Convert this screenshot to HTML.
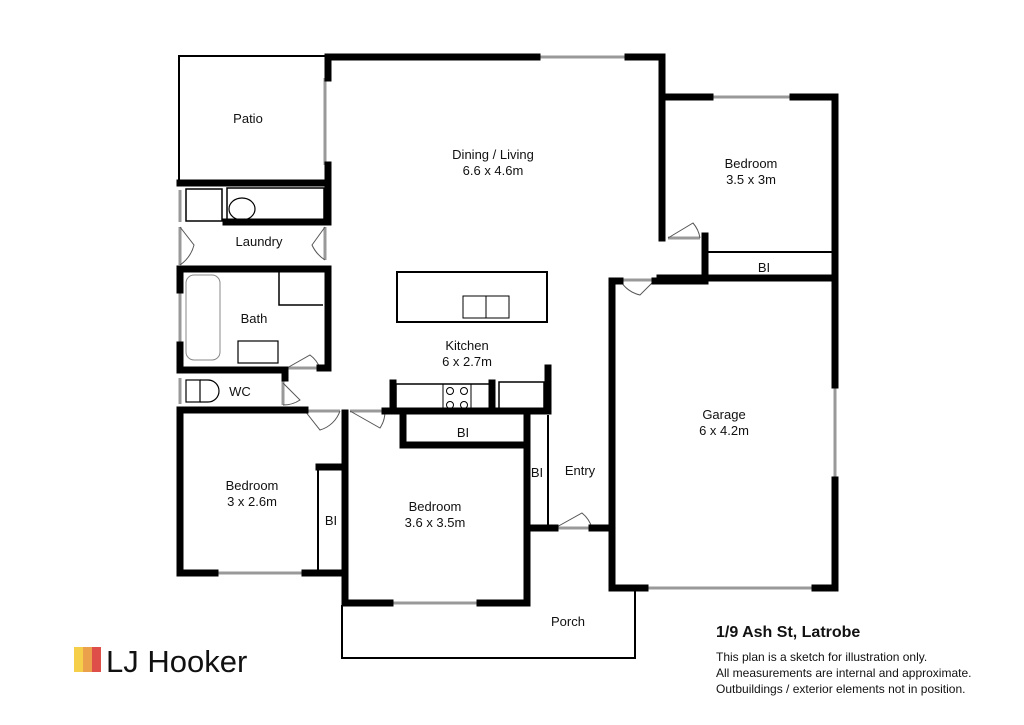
<!DOCTYPE html>
<html><head><meta charset="utf-8"><style>
html,body{margin:0;padding:0;background:#fff;width:1024px;height:725px;overflow:hidden}
svg{display:block}
text{font-family:"Liberation Sans",Arial,sans-serif;fill:#111}
</style></head><body>
<svg width="1024" height="725" viewBox="0 0 1024 725">
<g fill="none" stroke="#000" stroke-width="2">
<!-- patio -->
<path d="M179 180 V56 H326"/>
<!-- island -->
<rect x="397" y="272" width="150" height="50"/>
<rect x="463" y="296" width="46" height="22" stroke-width="1"/>
<line x1="486" y1="296" x2="486" y2="318" stroke-width="1"/>
<!-- porch -->
<path d="M342 605 V658 H635 V590"/>
<!-- thin lines -->
<line x1="705" y1="252" x2="833" y2="252"/>
<line x1="318" y1="467" x2="318" y2="573"/>
<line x1="548" y1="415" x2="548" y2="528"/>
<rect x="186" y="189" width="36" height="32" stroke-width="1.5"/>
<rect x="227" y="188" width="97" height="34" stroke-width="1.5"/>
<ellipse cx="242" cy="209" rx="13" ry="11" stroke-width="1.2"/>
<rect x="186" y="275" width="34" height="85" rx="8" stroke-width="1" stroke="#888"/>
<path d="M279 272 V305 H323" stroke-width="1.5"/>
<rect x="238" y="341" width="40" height="22" stroke-width="1.2"/>
<rect x="186" y="380" width="14" height="22" stroke-width="1.2"/>
<path d="M200 380 H208 A11 11 0 0 1 208 402 H200" stroke-width="1.2"/>
<rect x="396" y="384" width="94" height="28" stroke-width="1.5"/>
<rect x="443" y="384" width="28" height="28" stroke-width="1"/>
<circle cx="450" cy="391" r="3.5" stroke-width="1"/><circle cx="464" cy="391" r="3.5" stroke-width="1"/>
<circle cx="450" cy="405" r="3.5" stroke-width="1"/><circle cx="464" cy="405" r="3.5" stroke-width="1"/>
<rect x="499" y="382" width="45" height="30" stroke-width="1.5"/>
</g>
<!-- windows -->
<g stroke="#999" stroke-width="3" fill="none">
<line x1="537" y1="57" x2="628" y2="57"/>
<line x1="710" y1="97" x2="793" y2="97"/>
<line x1="835" y1="385" x2="835" y2="480"/>
<line x1="645" y1="588" x2="815" y2="588"/>
<line x1="215" y1="573" x2="305" y2="573"/>
<line x1="390" y1="603" x2="480" y2="603"/>
<line x1="325" y1="78" x2="325" y2="165"/>
<line x1="180" y1="290" x2="180" y2="345"/>
<line x1="180" y1="190" x2="180" y2="222"/>
<line x1="180" y1="378" x2="180" y2="404"/>
<line x1="668" y1="238" x2="700" y2="238"/>
<line x1="620" y1="280" x2="655" y2="280"/>
<line x1="555" y1="528" x2="592" y2="528"/>
<line x1="305" y1="411" x2="340" y2="411"/>
<line x1="350" y1="411" x2="385" y2="411"/>
<line x1="287" y1="368" x2="320" y2="368"/>
<line x1="283" y1="380" x2="283" y2="405"/>
<line x1="180" y1="227" x2="180" y2="265"/>
<line x1="325" y1="227" x2="325" y2="260"/>
</g>
<!-- door arcs -->
<g stroke="#555" stroke-width="1" fill="none">
<path d="M668 238 L693 223 A30 30 0 0 1 700 238"/>
<path d="M655 280 L640 295 A30 30 0 0 1 620 280"/>
<path d="M555 528 L582 513 A30 30 0 0 1 592 528"/>
<path d="M305 411 L320 430 A30 30 0 0 0 340 411"/>
<path d="M350 411 L380 428 A30 30 0 0 0 385 411"/>
<path d="M287 368 L310 355 A30 30 0 0 1 320 368"/>
<path d="M283 383 L300 400 A30 30 0 0 1 283 405"/>
<path d="M180 227 L194 245 A35 35 0 0 1 180 265"/>
<path d="M325 227 L312 245 A35 35 0 0 0 325 260"/>
</g>
<!-- thick walls -->
<g stroke="#000" stroke-width="7" fill="none" stroke-linecap="square">
<path d="M537 57 H328 V78"/>
<path d="M628 57 H662 V97 H710"/>
<path d="M793 97 H835 V385"/>
<path d="M662 97 V238"/>
<path d="M705 236 V277"/>
<path d="M660 278 H835"/>
<path d="M612 281 H620"/><path d="M655 281 H705"/>
<path d="M612 281 V588 H645"/>
<path d="M815 588 H835 V480"/>
<path d="M328 165 V222"/>
<path d="M180 183 H328"/>
<path d="M226 222 H328"/>
<path d="M180 269 H328 V368"/>
<path d="M180 269 V290"/><path d="M180 345 V370"/>
<path d="M180 370 H285 V378"/><path d="M320 368 H326"/>
<path d="M180 410 V573 H215"/>
<path d="M180 410 H305"/>
<path d="M305 573 H345"/>
<path d="M345 413 V603 H390"/>
<path d="M480 603 H527 V415"/>
<path d="M385 411 H548"/>
<path d="M393 383 V411"/><path d="M492 383 V411"/><path d="M548 368 V411"/>
<path d="M403 418 V445 H524"/>
<path d="M319 467 H345"/>
<path d="M527 528 H555"/><path d="M592 528 H612"/>
</g>
<g font-size="13" text-anchor="middle">
<text x="248" y="123">Patio</text>
<text x="493" y="159">Dining / Living</text>
<text x="493" y="175">6.6 x 4.6m</text>
<text x="751" y="168">Bedroom</text>
<text x="751" y="184">3.5 x 3m</text>
<text x="764" y="272">BI</text>
<text x="259" y="246">Laundry</text>
<text x="254" y="323">Bath</text>
<text x="240" y="396">WC</text>
<text x="467" y="350">Kitchen</text>
<text x="467" y="366">6 x 2.7m</text>
<text x="463" y="437">BI</text>
<text x="537" y="477">BI</text>
<text x="580" y="475">Entry</text>
<text x="724" y="419">Garage</text>
<text x="724" y="435">6 x 4.2m</text>
<text x="252" y="490">Bedroom</text>
<text x="252" y="506">3 x 2.6m</text>
<text x="331" y="525">BI</text>
<text x="435" y="511">Bedroom</text>
<text x="435" y="527">3.6 x 3.5m</text>
<text x="568" y="626">Porch</text>
</g>
<text x="716" y="637" font-size="16" font-weight="bold">1/9 Ash St, Latrobe</text>
<g font-size="12"><text x="716" y="661">This plan is a sketch for illustration only.</text>
<text x="716" y="677">All measurements are internal and approximate.</text>
<text x="716" y="693">Outbuildings / exterior elements not in position.</text></g>
<rect x="74" y="647" width="9" height="25" fill="#f5cf4a"/>
<rect x="83" y="647" width="9" height="25" fill="#eba04b"/>
<rect x="92" y="647" width="9" height="25" fill="#df4f4a"/>
<text x="106" y="672" font-size="31" style="fill:#111">LJ Hooker</text>
</svg>
</body></html>
